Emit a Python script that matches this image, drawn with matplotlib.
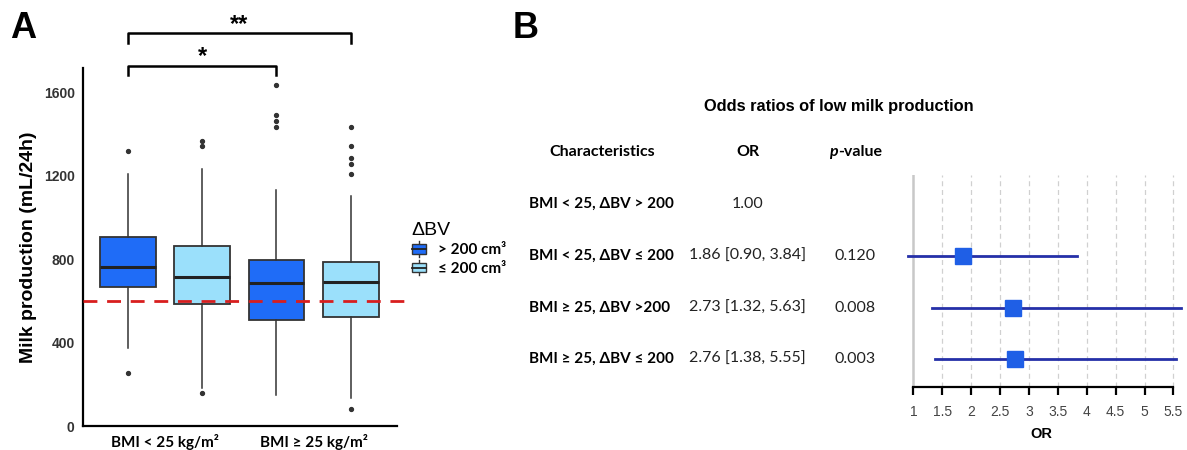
import numpy as np
import matplotlib.pyplot as plt
from matplotlib.patches import Patch, Rectangle
from matplotlib.lines import Line2D
from matplotlib.transforms import blended_transform_factory

plt.rcParams['font.family'] = ['Liberation Sans', 'DejaVu Sans']

# ---- panel A data (box stats) ----
groups = ['BMI < 25 kg/m²', 'BMI ≥ 25 kg/m²']
bv_levels = ['> 200 cm³', '≤ 200 cm³']
q1 = [667, 584, 510, 523]
med = [760, 712, 685, 688]
q3 = [904, 861, 794, 784]
whislo = [376, 184, 147, 132]
whishi = [1205, 1232, 1131, 1101]
fliers = [[1319, 253], [1365, 1341, 160], [1635, 1491, 1461, 1434],
          [1434, 1342, 1282, 1256, 1205, 80]]
cutoff = 600

# ---- panel B data ----
rows = ['BMI < 25, ΔBV > 200', 'BMI < 25, ΔBV ≤ 200',
        'BMI ≥ 25, ΔBV >200', 'BMI ≥ 25, ΔBV ≤ 200']
or_est = [1.00, 1.86, 2.73, 2.76]
ci_lo = [np.nan, 0.90, 1.32, 1.38]
ci_hi = [np.nan, 3.84, 5.63, 5.55]
pvals = ['', '0.120', '0.008', '0.003']
or_ticks = [1, 1.5, 2, 2.5, 3, 3.5, 4, 4.5, 5, 5.5]

dark = '#1f6cf7'
light = '#9be0fb'
cal = 'Lato'


class BoxKey:
    # legend key that looks like a small boxplot
    def legend_artist(self, legend, orig_handle, fontsize, handlebox):
        x0, y0 = -handlebox.xdescent, -handlebox.ydescent
        w, h = handlebox.width, handlebox.height
        t = handlebox.get_transform()
        handlebox.add_artist(Line2D([x0 + w/2]*2, [y0 - 2, y0 + h + 2], color='#333333',
                                    lw=1, transform=t))
        p = Rectangle((x0, y0), w, h, facecolor=orig_handle.get_facecolor(),
                      edgecolor='#333333', lw=1, transform=t)
        handlebox.add_artist(p)
        handlebox.add_artist(Line2D([x0, x0 + w], [y0 + h/2]*2, color='#222222',
                                    lw=1.3, transform=t))
        return p


fig = plt.figure(figsize=(11.87, 4.5), dpi=100)

# ================= A =================
ax = fig.add_axes([83/1187, 1-426/450, 314/1187, 358/450])
pos = []
for g in range(2):
    pos += [g + 1 - 0.25, g + 1 + 0.25]
stats = []
for i in range(4):
    stats.append(dict(q1=q1[i], med=med[i], q3=q3[i], whislo=whislo[i],
                      whishi=whishi[i], fliers=fliers[i]))
bp = ax.bxp(stats, positions=pos, widths=0.375, patch_artist=True, showcaps=False,
            boxprops=dict(edgecolor='#333333', linewidth=1.3),
            medianprops=dict(color='#222222', linewidth=2.2),
            whiskerprops=dict(color='#333333', linewidth=1.1),
            flierprops=dict(marker='o', markersize=2.8, markerfacecolor='#333333',
                            markeredgecolor='#333333'))
for i, b in enumerate(bp['boxes']):
    b.set_facecolor(dark if i % 2 == 0 else light)
ax.axhline(cutoff, xmin=0, xmax=1.03, color='#d81e1e', lw=2, ls=(0, (5, 3.5)),
           clip_on=False, zorder=5)
ax.set_xlim(0.45, 2.56)
ax.set_ylim(0, 1715)
ax.set_yticks([0, 400, 800, 1200, 1600])
ax.set_xticks([1, 2])
ax.set_xticklabels(groups, family=cal, fontweight='bold', fontsize=11)
ax.tick_params(axis='both', length=0, pad=6)
for t in ax.get_yticklabels():
    t.set_fontweight('bold')
    t.set_fontsize(10)
    t.set_color('#333333')
ax.set_ylabel('Milk production (mL/24h)', fontsize=14, fontweight='bold', labelpad=5)
for s in ['top', 'right']:
    ax.spines[s].set_visible(False)
for s in ['left', 'bottom']:
    ax.spines[s].set_linewidth(1.6)

# significance brackets
def bracket(x1, x2, y, h, label, ty):
    ax.plot([x1, x1, x2, x2], [y - h, y, y, y - h], color='black', lw=1.8,
            clip_on=False)
    ax.text((x1 + x2) / 2, ty, label, ha='center', va='center', fontsize=17,
            fontweight='bold')

bracket(pos[0], pos[2], 1723, 40, '*', 1770)
bracket(pos[0], pos[3], 1882, 48, '**', 1925)

handles = [Patch(facecolor=dark), Patch(facecolor=light)]
leg = fig.legend(handles, bv_levels, loc='upper left', bbox_to_anchor=(398/1187, 1-208/450),
                 frameon=False, title='ΔBV', handlelength=0.9, handleheight=0.6,
                 handletextpad=0.8, labelspacing=0.3, alignment='left',
                 handler_map={Patch: BoxKey()},
                 prop=dict(family=cal, weight='bold', size=11))
leg.get_title().set_fontsize(14)
leg.get_title().set_family('Liberation Sans')

fig.text(10/1187, 1-29/450, 'A', fontsize=26, fontweight='bold', va='center')
fig.text(513/1187, 1-29/450, 'B', fontsize=26, fontweight='bold', va='center')

# ================= B =================
axf = fig.add_axes([895/1187, 1-386.7/450, 292/1187, 211.7/450])
axf.set_xlim(0.683, 5.735)
axf.set_ylim(3.53, -0.56)
for x in or_ticks[1:]:
    axf.axvline(x, color='#d0d0d0', lw=0.9, ls=(0, (4, 3)), zorder=0)
axf.axvline(1, color='#c8c8c8', lw=1.8, zorder=0)
yy = np.arange(len(rows))
for i in range(len(rows)):
    if np.isnan(ci_lo[i]):
        continue
    axf.plot([ci_lo[i], ci_hi[i]], [yy[i], yy[i]], color='#2530a8', lw=2,
             clip_on=False, zorder=2)
    axf.plot(or_est[i], yy[i], marker='s', markersize=12, color='#1f5fe6',
             zorder=3, clip_on=False)
for s in ['top', 'right', 'left']:
    axf.spines[s].set_visible(False)
axf.spines['bottom'].set_bounds(1, 5.5)
axf.spines['bottom'].set_linewidth(1.6)
axf.set_yticks([])
axf.set_xticks(or_ticks)
axf.set_xticklabels([f'{t:g}' for t in or_ticks], fontsize=10, color='#444444')
axf.tick_params(axis='x', length=6, width=1.6, pad=7)
axf.set_xlabel('OR', fontsize=10.5, fontweight='bold', labelpad=6)

tr = blended_transform_factory(fig.transFigure, axf.transData)
fig.text(838.5/1187, -1.88, 'Odds ratios of low milk production', transform=tr,
         ha='center', va='center', fontsize=11.8, fontweight='bold')
fig.text(601.7/1187, -1, 'Characteristics', transform=tr, ha='center', va='center',
         family=cal, fontweight='bold', fontsize=11.5)
fig.text(747.7/1187, -1, 'OR', transform=tr, ha='center', va='center',
         family=cal, fontweight='bold', fontsize=11.5)
fig.text(838/1187, -1, 'p', transform=tr, ha='right', va='center',
         family=cal, fontweight='bold', style='italic', fontsize=11.5)
fig.text(838/1187, -1, '-value', transform=tr, ha='left', va='center',
         family=cal, fontweight='bold', fontsize=11.5)
for i, r in enumerate(rows):
    fig.text(529/1187, yy[i], r, transform=tr, ha='left', va='center',
             family=cal, fontweight='bold', fontsize=11)
    if np.isnan(ci_lo[i]):
        s = f'{or_est[i]:.2f}'
    else:
        s = f'{or_est[i]:.2f} [{ci_lo[i]:.2f}, {ci_hi[i]:.2f}]'
    fig.text(747.7/1187, yy[i], s, transform=tr, ha='center', va='center',
             family=cal, fontsize=11.5, color='#222222')
    fig.text(855/1187, yy[i], pvals[i], transform=tr, ha='center', va='center',
             family=cal, fontsize=11.5, color='#222222')

fig.savefig('out.png', dpi=100)
